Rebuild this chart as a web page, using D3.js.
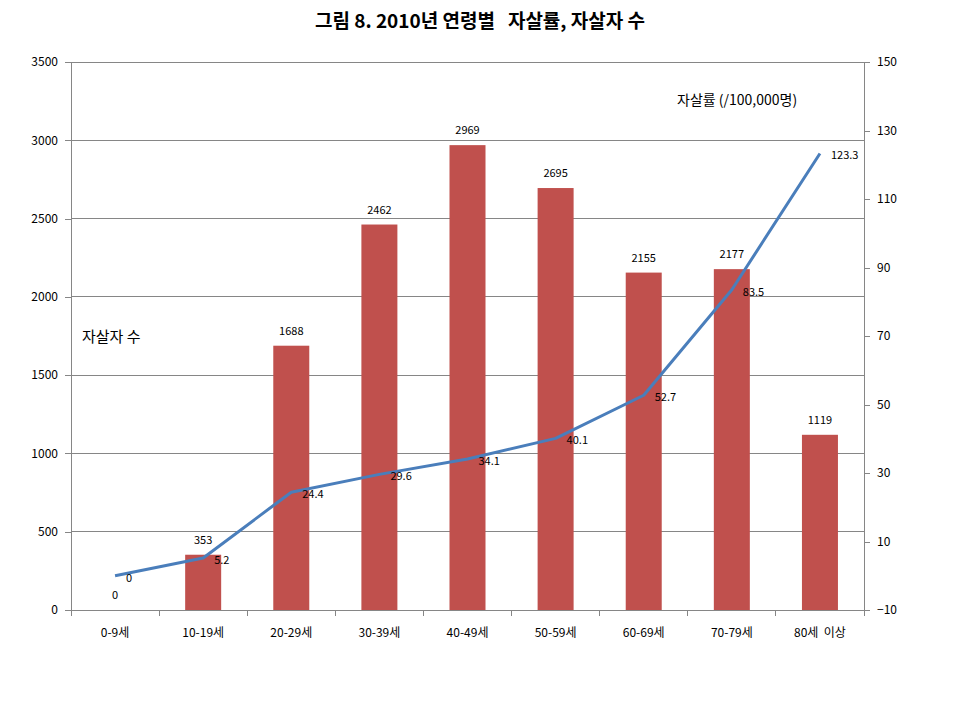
<!DOCTYPE html>
<html><head><meta charset="utf-8">
<script src="https://cdn.jsdelivr.net/npm/d3@7"></script>
<style>
body{margin:0;background:#fff;}
text{font-family:"Noto Sans CJK KR","Malgun Gothic",sans-serif;fill:#000;white-space:pre;}
</style></head>
<body><svg id="c" width="960" height="720"></svg>
<script>
const categories = ["0-9세","10-19세","20-29세","30-39세","40-49세","50-59세","60-69세","70-79세","80세  이상"];
const suicides = [0,353,1688,2462,2969,2695,2155,2177,1119];
const rates = [0,5.2,24.4,29.6,34.1,40.1,52.7,83.5,123.3];
const leftTicks = [0,500,1000,1500,2000,2500,3000,3500];
const rightTicks = [-10,10,30,50,70,90,110,130,150];

const svg = d3.select("#c");
const L=71, R=864, T=62, B=610;
const x = d3.scaleBand().domain(categories).range([L,R]);
const yL = d3.scaleLinear().domain([0,3500]).range([B,T]);
const yR = d3.scaleLinear().domain([-10,150]).range([B,T]);

svg.append("text").attr("x",480).attr("y",28).attr("text-anchor","middle")
  .style("font-size","19px").style("font-weight","bold").text("그림 8. 2010년 연령별   자살률, 자살자 수");

// gridlines
svg.append("g").selectAll("line").data(leftTicks).join("line")
  .attr("x1",L).attr("x2",R).attr("y1",d=>yL(d)).attr("y2",d=>yL(d))
  .attr("stroke","#868686").attr("stroke-width",1).attr("shape-rendering","crispEdges");

const axL = svg.append("g").attr("transform",`translate(${L},0)`)
  .call(d3.axisLeft(yL).tickValues(leftTicks).tickFormat(d3.format("d")).tickSize(6).tickPadding(7));
const axR = svg.append("g").attr("transform",`translate(${R},0)`)
  .call(d3.axisRight(yR).tickValues(rightTicks).tickFormat(d3.format("d")).tickSize(6).tickPadding(7));
const xb = svg.append("g").attr("transform",`translate(0,${B})`)
  .call(d3.axisBottom(x).tickSize(0).tickPadding(18));
// boundary ticks
svg.append("g").selectAll("line").data(d3.range(categories.length+1)).join("line")
  .attr("x1",i=>L+i*x.step()).attr("x2",i=>L+i*x.step()).attr("y1",B).attr("y2",B+6)
  .attr("stroke","#868686").attr("shape-rendering","crispEdges");
[axL,axR,xb].forEach(a=>{
  a.selectAll("path,line").attr("stroke","#868686").attr("shape-rendering","crispEdges");
  a.selectAll("text").style("font-size","12px").style("font-family",'"Noto Sans CJK KR",sans-serif').style("white-space","pre");
});

const bw = 36;
svg.append("g").selectAll("rect").data(suicides).join("rect")
  .attr("x",(d,i)=>x(categories[i])+x.bandwidth()/2-bw/2)
  .attr("width",bw).attr("y",d=>yL(d)).attr("height",d=>B-yL(d))
  .attr("fill","#C0504D");
svg.append("g").selectAll("text").data(suicides).join("text")
  .attr("x",(d,i)=>x(categories[i])+x.bandwidth()/2)
  .attr("y",d=>yL(d)-11).attr("text-anchor","middle")
  .style("font-size","11px").text(d=>d);

const line = d3.line().x((d,i)=>x(categories[i])+x.bandwidth()/2).y(d=>yR(d));
svg.append("path").datum(rates).attr("d",line).attr("fill","none")
  .attr("stroke","#4A7EBB").attr("stroke-width",3).attr("stroke-linejoin","round");
svg.append("g").selectAll("text").data(rates).join("text")
  .attr("x",(d,i)=>x(categories[i])+x.bandwidth()/2+11)
  .attr("y",d=>yR(d)+6).attr("text-anchor","start")
  .style("font-size","11px").text(d=>d);

svg.append("text").attr("x",82).attr("y",342).style("font-size","15px").text("자살자 수");
svg.append("text").attr("x",677).attr("y",105).style("font-size","14px").text("자살률 (/100,000명)");
</script></body></html>
